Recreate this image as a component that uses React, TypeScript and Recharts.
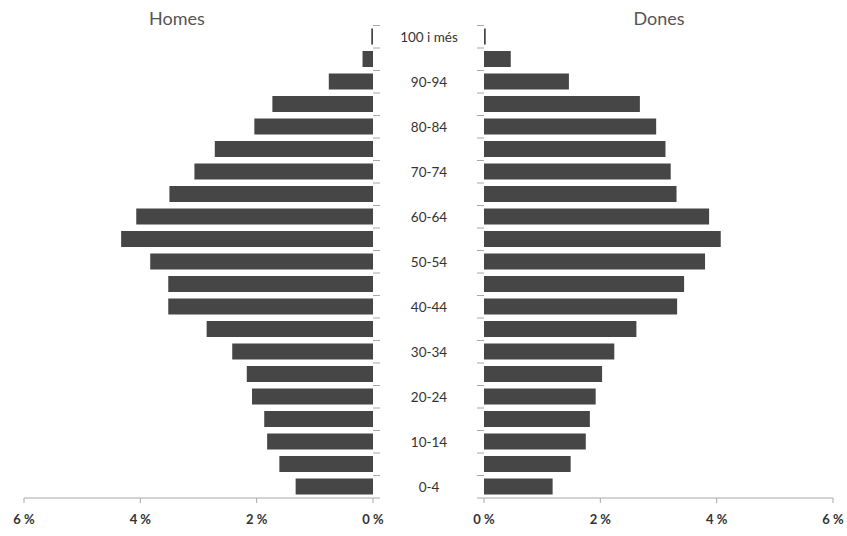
import { Bar, BarChart, XAxis, YAxis } from 'recharts'

const ageGroups = [
    '0-4', '5-9', '10-14', '15-19', '20-24', '25-29', '30-34', '35-39', '40-44', '45-49',
    '50-54', '55-59', '60-64', '65-69', '70-74', '75-79', '80-84', '85-89', '90-94', '95-99', '100 i més',
]
const homes = [1.33, 1.61, 1.82, 1.87, 2.08, 2.17, 2.42, 2.86, 3.52, 3.52, 3.83, 4.33, 4.07, 3.5, 3.07, 2.72, 2.04, 1.73, 0.76, 0.18, 0.03]
const dones = [1.18, 1.49, 1.75, 1.82, 1.92, 2.03, 2.24, 2.62, 3.32, 3.44, 3.8, 4.07, 3.87, 3.31, 3.21, 3.12, 2.96, 2.68, 1.46, 0.46, 0.03]
const pctTicks = [0, 2, 4, 6]

const rows = ageGroups.map((age, i) => ({ age, homes: homes[i], dones: dones[i] }))

const BAR = '#464646'
const AXIS = '#a8a8a8'
const FONT = 'Lato, "Open Sans", sans-serif'

const LeftAgeTick = (props: any) => {
    const { x, y, payload } = props
    const i = ageGroups.indexOf(payload.value)
    const half = payload.offset ?? 11.25
    return (
        <g>
            <line x1={x} x2={x + 7} y1={y - half} y2={y - half} stroke={AXIS} />
            {i === 0 && <line x1={x} x2={x + 7} y1={y + half} y2={y + half} stroke={AXIS} />}
            {i % 2 === 0 && (
                <text x={x + 56} y={y} textAnchor={'middle'} dominantBaseline={'central'} fill={'#333'} fontSize={13.5} fontFamily={FONT}>
                    {payload.value}
                </text>
            )}
        </g>
    )
}

const RightAgeTick = (props: any) => {
    const { x, y, payload } = props
    const i = ageGroups.indexOf(payload.value)
    const half = payload.offset ?? 11.25
    return (
        <g>
            <line x1={x - 7} x2={x} y1={y - half} y2={y - half} stroke={AXIS} />
            {i === 0 && <line x1={x - 7} x2={x} y1={y + half} y2={y + half} stroke={AXIS} />}
        </g>
    )
}

const pctTick = { fill: '#333', fontSize: 13, fontWeight: 'bold', fontFamily: FONT }

export default function App() {
    return (
        <div style={{ position: 'absolute', left: 0, top: 0, width: 847, height: 536, background: '#fff', fontFamily: FONT }}>
            <div style={{ position: 'absolute', left: 117, top: 7, width: 120, textAlign: 'center', fontSize: 18, color: '#555' }}>
                Homes
            </div>
            <div style={{ position: 'absolute', left: 599, top: 7, width: 120, textAlign: 'center', fontSize: 18, color: '#555' }}>
                Dones
            </div>

            <div style={{ position: 'absolute', left: 0, top: 0 }}>
                <BarChart width={484} height={536} data={rows} layout={'vertical'} margin={{ top: 25.5, right: 0, bottom: 0, left: 24 }}>
                    <XAxis
                        type={'number'}
                        domain={[0, 6]}
                        reversed
                        ticks={pctTicks}
                        interval={0}
                        tickFormatter={v => `${v} %`}
                        stroke={AXIS}
                        tickSize={5}
                        tickMargin={12}
                        height={38}
                        tick={pctTick}
                    />
                    <YAxis
                        type={'category'}
                        dataKey={'age'}
                        orientation={'right'}
                        reversed
                        width={111}
                        axisLine={false}
                        tickLine={false}
                        tickSize={0}
                        tickMargin={0}
                        interval={0}
                        tick={<LeftAgeTick />}
                    />
                    <Bar dataKey={'homes'} fill={BAR} barSize={16} isAnimationActive={false} />
                </BarChart>
            </div>

            <div style={{ position: 'absolute', left: 460, top: 0 }}>
                <BarChart width={387} height={536} data={rows} layout={'vertical'} margin={{ top: 25.5, right: 14, bottom: 0, left: 0 }}>
                    <XAxis
                        type={'number'}
                        domain={[0, 6]}
                        ticks={pctTicks}
                        interval={0}
                        tickFormatter={v => `${v} %`}
                        stroke={AXIS}
                        tickSize={5}
                        tickMargin={12}
                        height={38}
                        tick={pctTick}
                    />
                    <YAxis
                        type={'category'}
                        dataKey={'age'}
                        reversed
                        width={24}
                        axisLine={false}
                        tickLine={false}
                        tickSize={0}
                        tickMargin={0}
                        interval={0}
                        tick={<RightAgeTick />}
                    />
                    <Bar dataKey={'dones'} fill={BAR} barSize={16} isAnimationActive={false} />
                </BarChart>
            </div>
        </div>
    )
}
